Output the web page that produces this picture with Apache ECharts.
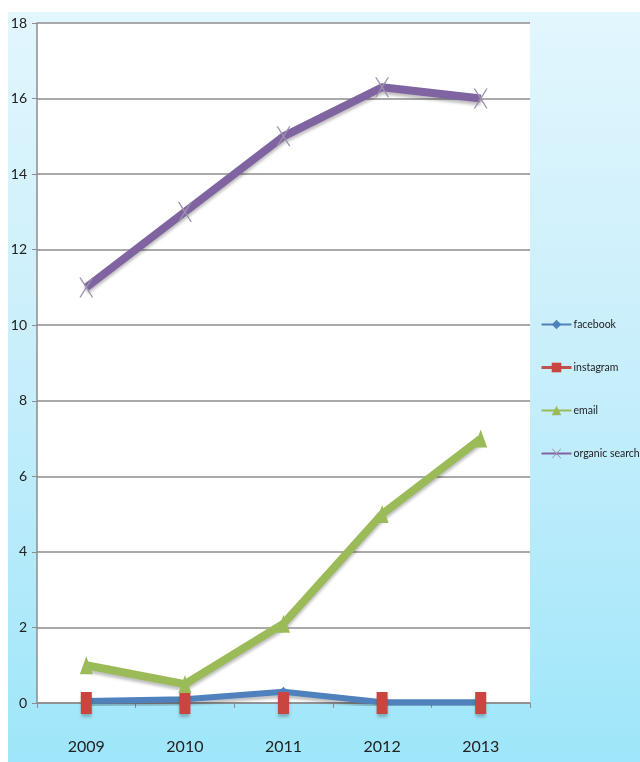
<!DOCTYPE html>
<html>
<head>
<meta charset="utf-8">
<style>
  html, body { margin: 0; padding: 0; background: #ffffff; }
  #chart { width: 640px; height: 762px; }
</style>
<script src="https://cdn.jsdelivr.net/npm/echarts@6/dist/echarts.min.js"></script>
</head>
<body>
<div id="chart"></div>
<script>
// Traffic sources by year
const years = ['2009', '2010', '2011', '2012', '2013'];
const facebook = [0.05, 0.1, 0.3, 0.02, 0.02];
const instagram = [0, 0, 0, 0, 0];
const email = [1, 0.5, 2.1, 5, 7];
const organicSearch = [11, 13, 15, 16.3, 16];
const yTicks = { min: 0, max: 18, step: 2 };

const font = "Lato, 'Liberation Sans', sans-serif";
const crossPath = 'path://M0,0L1,0L5,5.2L9,0L10,0L5.6,6L10,12L9,12L5,6.8L1,12L0,12L4.4,6Z';
const shadow = { shadowColor: 'rgba(0,0,0,0.25)', shadowBlur: 3, shadowOffsetY: 3 };

const chart = echarts.init(document.getElementById('chart'));
chart.setOption({
  animation: false,
  graphic: [{
    type: 'rect',
    z: -10,
    silent: true,
    shape: { x: 8, y: 12, width: 632, height: 750 },
    style: {
      fill: new echarts.graphic.LinearGradient(0, 0, 0, 1, [
        { offset: 0, color: '#e2f6fd' },
        { offset: 0.5, color: '#c6eefb' },
        { offset: 1, color: '#9ee6fa' }
      ])
    }
  }],
  grid: {
    left: 37, right: 110, top: 23, bottom: 59,
    show: true, backgroundColor: '#ffffff', borderWidth: 0
  },
  legend: {
    orient: 'vertical',
    left: 540,
    top: 319,
    padding: 0,
    itemGap: 32,
    itemWidth: 30,
    itemHeight: 12,
    textStyle: { fontFamily: font, fontSize: 10.5, color: '#222', padding: [0, 0, 0, -3] },
    data: [
      { name: 'facebook' },
      { name: 'instagram', lineStyle: { color: '#c0504d', width: 3, opacity: 1 } },
      { name: 'email' },
      { name: 'organic search' }
    ]
  },
  xAxis: {
    type: 'category',
    data: years,
    boundaryGap: true,
    axisLine: { lineStyle: { color: '#8c8c8c', width: 1.5 } },
    axisTick: { show: true, length: 5, lineStyle: { color: '#8c8c8c' } },
    axisLabel: { margin: 36, fontFamily: font, fontSize: 16, color: '#222' }
  },
  yAxis: {
    type: 'value',
    min: yTicks.min,
    max: yTicks.max,
    interval: yTicks.step,
    axisLine: { show: true, lineStyle: { color: '#8c8c8c', width: 1.5 } },
    axisTick: { show: true, length: 5, lineStyle: { color: '#8c8c8c' } },
    axisLabel: { margin: 10, fontFamily: font, fontSize: 14, color: '#222' },
    splitLine: { lineStyle: { color: '#8c8c8c', width: 1.5 } }
  },
  series: [
    {
      name: 'facebook', type: 'line', data: facebook,
      symbol: 'diamond', symbolSize: 10,
      lineStyle: Object.assign({ color: '#4f81bd', width: 6 }, shadow),
      itemStyle: { color: '#4f81bd' }
    },
    {
      name: 'instagram', type: 'line', data: instagram,
      symbol: 'rect', symbolSize: [11, 22],
      lineStyle: { color: '#c0504d', width: 0 },
      itemStyle: Object.assign({ color: '#c9453f' }, shadow),
      z: 3
    },
    {
      name: 'email', type: 'line', data: email,
      symbol: 'triangle', symbolSize: [13, 18],
      lineStyle: Object.assign({ color: '#9bbb59', width: 8 }, shadow),
      itemStyle: { color: '#9bbb59' }
    },
    {
      name: 'organic search', type: 'line', data: organicSearch,
      symbol: crossPath, symbolSize: [14, 20],
      lineStyle: Object.assign({ color: '#8064a2', width: 8 }, shadow),
      itemStyle: { color: '#9a92a8' }
    }
  ]
});
</script>
</body>
</html>
